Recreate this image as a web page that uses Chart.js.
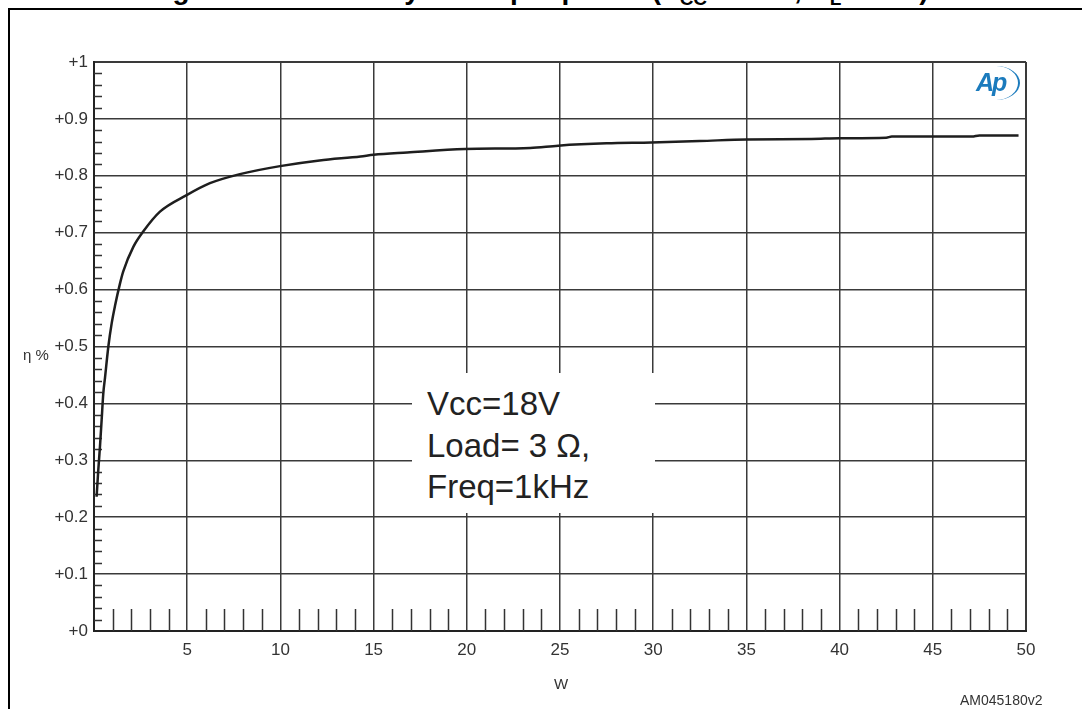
<!DOCTYPE html>
<html>
<head>
<meta charset="utf-8">
<script src="https://cdn.jsdelivr.net/npm/chart.js@4.4.1/dist/chart.umd.min.js"></script>
<style>
  html, body { margin:0; padding:0; background:#fff; width:1082px; height:709px; overflow:hidden; }
  body { position:relative; font-family:"Liberation Sans", Arial, Helvetica, sans-serif; color:#333; }
  #frame { position:absolute; left:8px; top:8px; width:1100px; height:740px; border:2px solid #000; box-sizing:border-box; }
  #title { position:absolute; left:-22px; top:-24px; width:1120px; text-align:center; font-weight:bold; font-size:28px; line-height:28px; color:#000; white-space:nowrap; }
  #title sub { font-size:19px; vertical-align:-6px; line-height:0; }
  canvas { position:absolute; left:0; top:0; }
  #note { position:absolute; left:412px; top:373px; width:243px; height:140px; background:#fff; }
  #noteText { position:absolute; left:427px; top:383px; font-size:33px; line-height:41.5px; color:#222; white-space:nowrap; }
  #ylab { position:absolute; left:23px; top:346px; font-size:15px; color:#333; }
  #xlab { position:absolute; left:554px; top:675px; font-size:15px; color:#333; }
  #code { position:absolute; left:960px; top:692px; font-size:14px; color:#333; }
  #logo { position:absolute; left:972px; top:66px; width:50px; height:36px; }
  #logoTxt { position:absolute; left:4px; top:2px; font-size:25px; font-weight:bold; font-style:italic; color:#1b7bbd; letter-spacing:-2px; }
  #logoArc { position:absolute; left:0px; top:0px; width:48px; height:34px; border-right:2.5px solid #1b7bbd; border-radius:50%; box-sizing:border-box; }
</style>
</head>
<body>
<div id="frame"></div>
<div id="title">Figure 16. Efficiency vs output power (V<sub>CC</sub> = 18 V, R<sub>L</sub> = 3 Ω)</div>
<canvas id="c" width="1082" height="709"></canvas>
<div id="note"></div>
<div id="noteText">Vcc=18V<br>Load= 3 Ω,<br>Freq=1kHz</div>
<div id="ylab">η %</div>
<div id="xlab">W</div>
<div id="code">AM045180v2</div>
<div id="logo"><div id="logoArc"></div><div id="logoTxt">Ap</div></div>
<script>
// Output power (W)
const power = [0.14, 0.23, 0.32, 0.41, 0.5, 0.59, 0.77, 0.95, 1.13, 1.39, 1.57, 2.11, 2.64, 3.54, 4.97, 6.22, 7.83, 9.98, 12.1, 14.3, 15, 16.8, 19.9, 23.4, 24.9, 27.5, 29.9, 32.5, 35, 38.5, 40, 42.5, 42.8, 47.1, 47.5, 49.6];
// Efficiency (fraction)
const efficiency = [0.236, 0.283, 0.324, 0.371, 0.418, 0.445, 0.500, 0.541, 0.572, 0.610, 0.632, 0.675, 0.702, 0.737, 0.766, 0.787, 0.803, 0.817, 0.827, 0.834, 0.837, 0.841, 0.847, 0.849, 0.853, 0.857, 0.8585, 0.861, 0.864, 0.8647, 0.866, 0.867, 0.869, 0.869, 0.871, 0.871];
// Axis ticks
const xTicks = [0, 5, 10, 15, 20, 25, 30, 35, 40, 45, 50];
const yTicks = [0, 0.1, 0.2, 0.3, 0.4, 0.5, 0.6, 0.7, 0.8, 0.9, 1];
const xMinor = [];
for (let i = 1; i < 50; i++) if (i % 5 !== 0) xMinor.push(i);
const yMinor = [];
for (let i = 1; i < 50; i++) if (i % 5 !== 0) yMinor.push(i / 50);

const points = power.map((p, i) => ({ x: p, y: efficiency[i] }));

const minorTicks = {
  id: 'minorTicks',
  beforeDatasetsDraw(chart) {
    const { ctx, chartArea, scales } = chart;
    ctx.save();
    ctx.strokeStyle = '#333';
    ctx.lineWidth = 1.5;
    ctx.beginPath();
    xMinor.forEach(v => {
      const px = Math.round(scales.x.getPixelForValue(v)) + 0.5;
      ctx.moveTo(px, chartArea.bottom);
      ctx.lineTo(px, chartArea.bottom - 22);
    });
    yMinor.forEach(v => {
      const py = Math.round(scales.y.getPixelForValue(v)) + 0.5;
      ctx.moveTo(chartArea.left, py);
      ctx.lineTo(chartArea.left + 8, py);
    });
    ctx.stroke();
    ctx.restore();
  }
};

const fmtY = v => '+' + (Math.round(v * 10) / 10);

new Chart(document.getElementById('c'), {
  type: 'line',
  data: {
    datasets: [{
      data: points,
      borderColor: '#1e1e1e',
      borderWidth: 2.5,
      pointRadius: 0,
      fill: false,
      cubicInterpolationMode: 'monotone'
    }]
  },
  options: {
    responsive: false,
    animation: false,
    devicePixelRatio: 1,
    layout: { padding: { left: 34, right: 56, top: 62, bottom: 38 } },
    plugins: { legend: { display: false }, tooltip: { enabled: false } },
    scales: {
      x: {
        type: 'linear', min: 0, max: 50,
        afterBuildTicks: s => { s.ticks = xTicks.map(v => ({ value: v })); },
        afterFit: s => { s.height = 40; },
        grid: {
          drawTicks: false,
          color: '#3a3a3a',
          lineWidth: c => (c.tick && (c.tick.value === 0 || c.tick.value === 50)) ? 2 : 1.5
        },
        border: { display: true, color: '#222', width: 2 },
        ticks: {
          padding: 9,
          color: '#333',
          font: { family: '"Liberation Sans", Arial, sans-serif', size: 17 },
          callback: v => v === 0 ? '' : String(v)
        }
      },
      y: {
        type: 'linear', min: 0, max: 1,
        afterBuildTicks: s => { s.ticks = yTicks.map(v => ({ value: v })); },
        afterFit: s => { s.width = 60; },
        grid: {
          drawTicks: false,
          color: '#3a3a3a',
          lineWidth: c => (c.tick && (c.tick.value === 0 || c.tick.value === 1)) ? 2 : 1.5
        },
        border: { display: true, color: '#222', width: 2 },
        ticks: {
          padding: 6,
          color: '#333',
          font: { family: '"Liberation Sans", Arial, sans-serif', size: 17 },
          callback: v => fmtY(v)
        }
      }
    }
  },
  plugins: [minorTicks]
});
</script>
</body>
</html>
